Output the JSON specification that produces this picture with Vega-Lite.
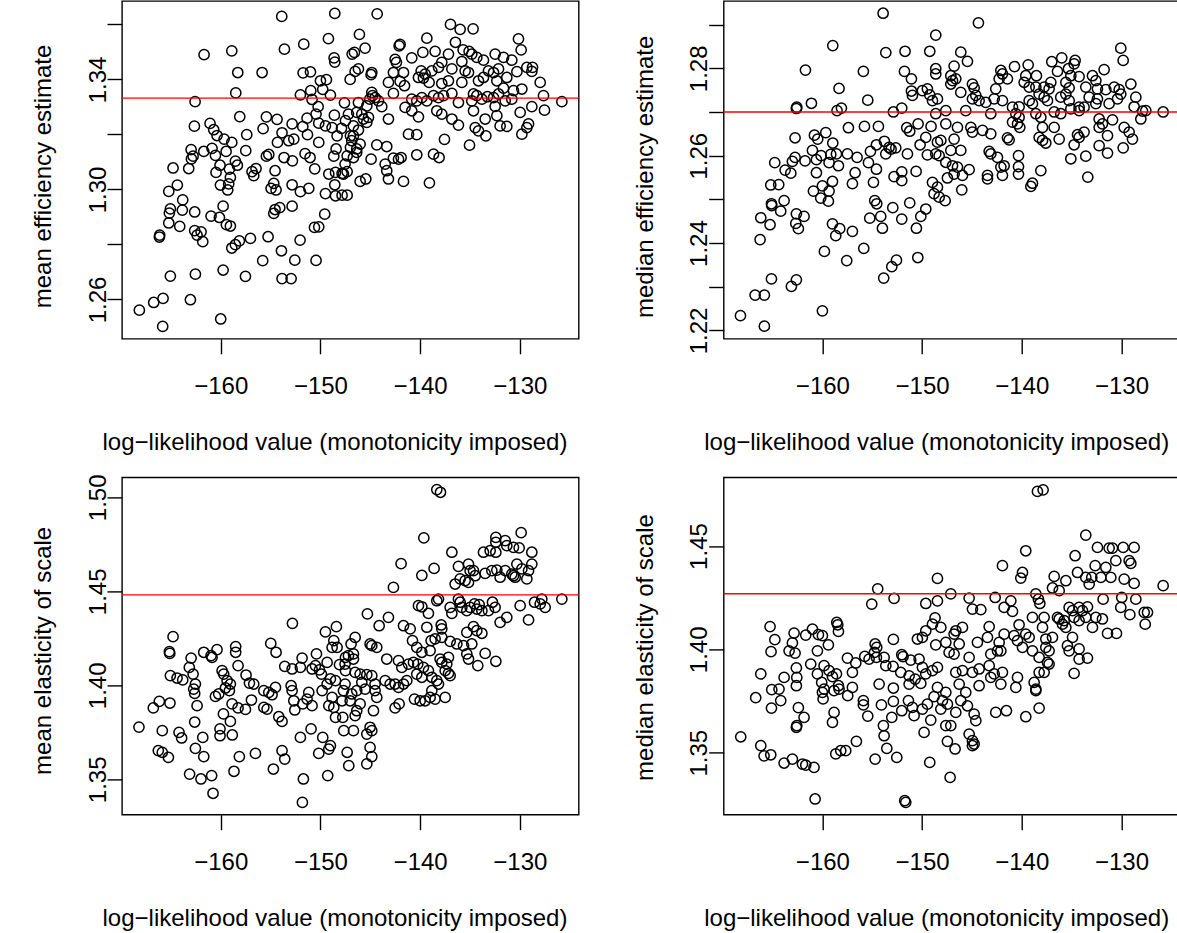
{
"$schema": "https://vega.github.io/schema/vega-lite/v6.json",
"background": "white",
"padding": {"left": 30, "top": 0, "right": 0, "bottom": 0},
"bounds": "flush",
"columns": 2,
"spacing": {"row": 138.4, "column": 144.7},
"datasets": {
"tl": [
{"x":-153.88,"y":1.3629},{"x":-148.56,"y":1.3640},{"x":-149.20,"y":1.3548},{"x":-151.67,"y":1.3528},{"x":-153.61,"y":1.3510},{"x":-158.89,"y":1.3504},{"x":-161.67,"y":1.3490},{"x":-148.63,"y":1.3478},{"x":-148.56,"y":1.3463},{"x":-158.29,"y":1.3425},{"x":-155.85,"y":1.3425},{"x":-151.74,"y":1.3424},{"x":-151.00,"y":1.3427},{"x":-150.00,"y":1.3395},{"x":-149.40,"y":1.3399},{"x":-158.49,"y":1.3351},{"x":-150.97,"y":1.3359},{"x":-152.01,"y":1.3344},{"x":-149.77,"y":1.3364},{"x":-149.00,"y":1.3343},{"x":-162.57,"y":1.3319},{"x":-150.84,"y":1.3327},{"x":-147.59,"y":1.3315},{"x":-150.23,"y":1.3301},{"x":-158.09,"y":1.3265},{"x":-155.42,"y":1.3264},{"x":-154.35,"y":1.3255},{"x":-150.44,"y":1.3274},{"x":-148.60,"y":1.3270},{"x":-162.64,"y":1.3230},{"x":-161.07,"y":1.3240},{"x":-152.84,"y":1.3238},{"x":-151.34,"y":1.3259},{"x":-151.77,"y":1.3228},{"x":-155.75,"y":1.3221},{"x":-160.70,"y":1.3217},{"x":-160.37,"y":1.3196},{"x":-157.39,"y":1.3199},{"x":-159.66,"y":1.3183},{"x":-158.89,"y":1.3171},{"x":-153.85,"y":1.3206},{"x":-151.30,"y":1.3199},{"x":-150.17,"y":1.3241},{"x":-149.50,"y":1.3231},{"x":-148.83,"y":1.3225},{"x":-147.89,"y":1.3222},{"x":-148.33,"y":1.3195},{"x":-154.31,"y":1.3171},{"x":-153.18,"y":1.3177},{"x":-152.67,"y":1.3183},{"x":-150.17,"y":1.3171},{"x":-162.97,"y":1.3145},{"x":-161.70,"y":1.3138},{"x":-160.87,"y":1.3149},{"x":-159.46,"y":1.3138},{"x":-157.49,"y":1.3141},{"x":-155.18,"y":1.3127},{"x":-155.42,"y":1.3121},{"x":-153.65,"y":1.3116},{"x":-151.54,"y":1.3130},{"x":-151.04,"y":1.3116},{"x":-148.43,"y":1.3147},{"x":-162.77,"y":1.3121},{"x":-162.94,"y":1.3111},{"x":-160.53,"y":1.3124},{"x":-160.07,"y":1.3088},{"x":-158.53,"y":1.3103},{"x":-158.33,"y":1.3088},{"x":-160.47,"y":1.3062},{"x":-164.78,"y":1.3078},{"x":-163.21,"y":1.3076},{"x":-159.13,"y":1.3074},{"x":-156.86,"y":1.3065},{"x":-156.46,"y":1.3076},{"x":-156.69,"y":1.3050},{"x":-154.55,"y":1.3068},{"x":-152.81,"y":1.3104},{"x":-150.57,"y":1.3075},{"x":-148.66,"y":1.3121},{"x":-149.16,"y":1.3056},{"x":-148.49,"y":1.3062},{"x":-147.83,"y":1.3058},{"x":-159.03,"y":1.3044},{"x":-159.20,"y":1.3020},{"x":-160.03,"y":1.3016},{"x":-159.30,"y":1.2998},{"x":-154.68,"y":1.3022},{"x":-154.95,"y":1.3004},{"x":-154.45,"y":1.2998},{"x":-152.84,"y":1.3017},{"x":-152.01,"y":1.2992},{"x":-151.17,"y":1.3004},{"x":-149.50,"y":1.2985},{"x":-148.56,"y":1.3017},{"x":-148.49,"y":1.2977},{"x":-147.83,"y":1.2979},{"x":-164.35,"y":1.3016},{"x":-165.21,"y":1.2993},{"x":-163.81,"y":1.2962},{"x":-165.05,"y":1.2929},{"x":-165.15,"y":1.2914},{"x":-163.85,"y":1.2925},{"x":-162.61,"y":1.2918},{"x":-159.76,"y":1.2939},{"x":-160.97,"y":1.2903},{"x":-160.13,"y":1.2898},{"x":-159.43,"y":1.2872},{"x":-159.03,"y":1.2867},{"x":-165.21,"y":1.2878},{"x":-164.11,"y":1.2866},{"x":-154.55,"y":1.2927},{"x":-154.08,"y":1.2934},{"x":-154.68,"y":1.2913},{"x":-152.84,"y":1.2939},{"x":-149.57,"y":1.2910},{"x":-150.60,"y":1.2862},{"x":-150.17,"y":1.2864},{"x":-166.12,"y":1.2834},{"x":-166.15,"y":1.2827},{"x":-162.61,"y":1.2850},{"x":-161.97,"y":1.2846},{"x":-162.37,"y":1.2834},{"x":-161.80,"y":1.2810},{"x":-157.02,"y":1.2822},{"x":-155.25,"y":1.2828},{"x":-158.13,"y":1.2813},{"x":-158.53,"y":1.2799},{"x":-158.89,"y":1.2787},{"x":-152.04,"y":1.2816},{"x":-153.91,"y":1.2777},{"x":-155.79,"y":1.2741},{"x":-152.57,"y":1.2743},{"x":-150.44,"y":1.2742},{"x":-165.05,"y":1.2685},{"x":-162.54,"y":1.2692},{"x":-159.76,"y":1.2707},{"x":-157.52,"y":1.2684},{"x":-153.85,"y":1.2676},{"x":-152.94,"y":1.2676},{"x":-168.16,"y":1.2561},{"x":-166.72,"y":1.2589},{"x":-165.78,"y":1.2604},{"x":-163.04,"y":1.2599},{"x":-165.82,"y":1.2502},{"x":-160.00,"y":1.2529},{"x":-147.49,"y":1.3250},{"x":-147.32,"y":1.3122},{"x":-147.32,"y":1.3065},{"x":-147.32,"y":1.2979},{"x":-146.99,"y":1.3195},{"x":-146.99,"y":1.3153},
{"x":-144.31,"y":1.3638},{"x":-136.96,"y":1.3600},{"x":-135.99,"y":1.3582},{"x":-134.69,"y":1.3584},{"x":-146.09,"y":1.3564},{"x":-130.14,"y":1.3547},{"x":-136.46,"y":1.3535},{"x":-139.33,"y":1.3550},{"x":-142.01,"y":1.3527},{"x":-145.52,"y":1.3514},{"x":-142.11,"y":1.3522},{"x":-129.87,"y":1.3507},{"x":-146.82,"y":1.3492},{"x":-146.59,"y":1.3498},{"x":-135.69,"y":1.3507},{"x":-135.09,"y":1.3502},{"x":-134.82,"y":1.3492},{"x":-142.51,"y":1.3473},{"x":-142.38,"y":1.3462},{"x":-140.84,"y":1.3478},{"x":-139.73,"y":1.3498},{"x":-138.50,"y":1.3502},{"x":-137.16,"y":1.3492},{"x":-134.32,"y":1.3480},{"x":-132.48,"y":1.3492},{"x":-131.64,"y":1.3480},{"x":-130.81,"y":1.3470},{"x":-133.65,"y":1.3470},{"x":-137.83,"y":1.3462},{"x":-135.82,"y":1.3465},{"x":-146.52,"y":1.3429},{"x":-146.19,"y":1.3438},{"x":-147.02,"y":1.3400},{"x":-144.85,"y":1.3425},{"x":-144.92,"y":1.3417},{"x":-142.68,"y":1.3425},{"x":-141.67,"y":1.3425},{"x":-139.90,"y":1.3431},{"x":-139.50,"y":1.3419},{"x":-138.83,"y":1.3431},{"x":-138.16,"y":1.3444},{"x":-136.82,"y":1.3438},{"x":-135.49,"y":1.3431},{"x":-135.15,"y":1.3425},{"x":-133.15,"y":1.3431},{"x":-132.64,"y":1.3425},{"x":-132.14,"y":1.3438},{"x":-131.31,"y":1.3407},{"x":-130.30,"y":1.3428},{"x":-129.30,"y":1.3444},{"x":-128.73,"y":1.3444},{"x":-128.80,"y":1.3429},{"x":-143.18,"y":1.3389},{"x":-142.01,"y":1.3393},{"x":-141.57,"y":1.3377},{"x":-140.17,"y":1.3407},{"x":-139.67,"y":1.3405},{"x":-139.10,"y":1.3389},{"x":-137.83,"y":1.3385},{"x":-137.16,"y":1.3395},{"x":-135.82,"y":1.3389},{"x":-134.15,"y":1.3395},{"x":-133.65,"y":1.3407},{"x":-132.31,"y":1.3395},{"x":-131.64,"y":1.3368},{"x":-130.64,"y":1.3359},{"x":-129.80,"y":1.3365},{"x":-127.96,"y":1.3389},{"x":-144.85,"y":1.3353},{"x":-144.78,"y":1.3341},{"x":-145.05,"y":1.3328},{"x":-144.52,"y":1.3334},{"x":-144.18,"y":1.3322},{"x":-143.85,"y":1.3301},{"x":-142.68,"y":1.3349},{"x":-140.84,"y":1.3328},{"x":-140.34,"y":1.3322},{"x":-139.83,"y":1.3334},{"x":-139.33,"y":1.3322},{"x":-138.66,"y":1.3341},{"x":-138.16,"y":1.3334},{"x":-137.66,"y":1.3341},{"x":-136.82,"y":1.3349},{"x":-136.16,"y":1.3316},{"x":-134.82,"y":1.3322},{"x":-134.65,"y":1.3347},{"x":-134.32,"y":1.3341},{"x":-133.81,"y":1.3328},{"x":-133.25,"y":1.3337},{"x":-132.64,"y":1.3334},{"x":-132.14,"y":1.3347},{"x":-131.47,"y":1.3322},{"x":-130.81,"y":1.3328},{"x":-127.63,"y":1.3341},{"x":-125.79,"y":1.3319},{"x":-146.19,"y":1.3316},{"x":-145.35,"y":1.3304},{"x":-141.51,"y":1.3298},{"x":-140.84,"y":1.3286},{"x":-140.17,"y":1.3264},{"x":-138.33,"y":1.3286},{"x":-137.83,"y":1.3274},{"x":-136.82,"y":1.3256},{"x":-136.16,"y":1.3234},{"x":-134.65,"y":1.3286},{"x":-133.48,"y":1.3256},{"x":-132.48,"y":1.3302},{"x":-132.31,"y":1.3268},{"x":-131.98,"y":1.3231},{"x":-131.31,"y":1.3229},{"x":-129.97,"y":1.3280},{"x":-128.80,"y":1.3301},{"x":-127.53,"y":1.3288},{"x":-129.13,"y":1.3238},{"x":-129.30,"y":1.3225},{"x":-147.19,"y":1.3274},{"x":-146.36,"y":1.3280},{"x":-145.85,"y":1.3274},{"x":-145.69,"y":1.3256},{"x":-146.69,"y":1.3231},{"x":-146.19,"y":1.3216},{"x":-145.35,"y":1.3244},{"x":-145.18,"y":1.3262},{"x":-143.18,"y":1.3256},{"x":-134.48,"y":1.3225},{"x":-134.15,"y":1.3213},{"x":-133.41,"y":1.3195},{"x":-129.80,"y":1.3201},{"x":-141.17,"y":1.3201},{"x":-140.34,"y":1.3199},{"x":-137.56,"y":1.3182},{"x":-135.05,"y":1.3161},{"x":-146.69,"y":1.3195},{"x":-146.86,"y":1.3177},{"x":-146.02,"y":1.3165},{"x":-146.36,"y":1.3147},{"x":-144.35,"y":1.3162},{"x":-143.35,"y":1.3156},{"x":-146.69,"y":1.3116},{"x":-147.53,"y":1.3092},{"x":-146.36,"y":1.3135},{"x":-144.92,"y":1.3110},{"x":-142.68,"y":1.3114},{"x":-142.17,"y":1.3110},{"x":-141.91,"y":1.3116},{"x":-140.34,"y":1.3126},{"x":-138.66,"y":1.3128},{"x":-138.10,"y":1.3116},{"x":-143.51,"y":1.3092},{"x":-143.35,"y":1.3068},{"x":-143.18,"y":1.3038},{"x":-147.69,"y":1.3056},{"x":-146.02,"y":1.3029},{"x":-145.45,"y":1.3038},{"x":-141.67,"y":1.3029},{"x":-139.07,"y":1.3024}
],
"tr": [
{"x":-153.91,"y":1.2926},{"x":-148.63,"y":1.2876},{"x":-158.96,"y":1.2852},{"x":-153.64,"y":1.2836},{"x":-151.71,"y":1.2839},{"x":-149.23,"y":1.2839},{"x":-161.70,"y":1.2796},{"x":-155.89,"y":1.2793},{"x":-151.77,"y":1.2793},{"x":-151.07,"y":1.2776},{"x":-148.63,"y":1.2799},{"x":-148.63,"y":1.2787},{"x":-158.33,"y":1.2754},{"x":-151.07,"y":1.2748},{"x":-150.97,"y":1.2738},{"x":-149.97,"y":1.2749},{"x":-149.47,"y":1.2753},{"x":-149.23,"y":1.2739},{"x":-148.96,"y":1.2726},{"x":-155.45,"y":1.2727},{"x":-162.57,"y":1.2711},{"x":-162.61,"y":1.2708},{"x":-161.10,"y":1.2720},{"x":-158.53,"y":1.2703},{"x":-158.09,"y":1.2709},{"x":-152.88,"y":1.2700},{"x":-152.04,"y":1.2709},{"x":-148.63,"y":1.2696},{"x":-162.74,"y":1.2641},{"x":-160.80,"y":1.2647},{"x":-160.47,"y":1.2638},{"x":-159.66,"y":1.2653},{"x":-158.96,"y":1.2629},{"x":-157.39,"y":1.2664},{"x":-155.78,"y":1.2667},{"x":-154.38,"y":1.2667},{"x":-153.78,"y":1.2633},{"x":-153.11,"y":1.2615},{"x":-152.64,"y":1.2618},{"x":-151.54,"y":1.2664},{"x":-151.24,"y":1.2656},{"x":-150.40,"y":1.2673},{"x":-150.20,"y":1.2625},{"x":-149.10,"y":1.2667},{"x":-149.63,"y":1.2642},{"x":-148.46,"y":1.2631},{"x":-164.78,"y":1.2584},{"x":-163.74,"y":1.2567},{"x":-163.17,"y":1.2560},{"x":-163.01,"y":1.2587},{"x":-162.74,"y":1.2596},{"x":-161.74,"y":1.2588},{"x":-161.00,"y":1.2612},{"x":-160.60,"y":1.2591},{"x":-160.13,"y":1.2600},{"x":-159.33,"y":1.2584},{"x":-159.16,"y":1.2603},{"x":-158.59,"y":1.2604},{"x":-158.39,"y":1.2577},{"x":-157.49,"y":1.2604},{"x":-156.52,"y":1.2596},{"x":-155.38,"y":1.2584},{"x":-155.18,"y":1.2610},{"x":-154.58,"y":1.2625},{"x":-153.64,"y":1.2604},{"x":-153.31,"y":1.2619},{"x":-151.47,"y":1.2604},{"x":-150.60,"y":1.2564},{"x":-149.47,"y":1.2602},{"x":-148.63,"y":1.2604},{"x":-165.18,"y":1.2533},{"x":-164.38,"y":1.2534},{"x":-160.60,"y":1.2561},{"x":-160.00,"y":1.2531},{"x":-158.99,"y":1.2541},{"x":-159.33,"y":1.2519},{"x":-160.17,"y":1.2503},{"x":-159.40,"y":1.2496},{"x":-156.72,"y":1.2561},{"x":-156.99,"y":1.2536},{"x":-154.88,"y":1.2539},{"x":-154.58,"y":1.2569},{"x":-152.81,"y":1.2552},{"x":-152.04,"y":1.2563},{"x":-152.04,"y":1.2543},{"x":-160.90,"y":1.2519},{"x":-154.75,"y":1.2497},{"x":-154.55,"y":1.2490},{"x":-152.94,"y":1.2481},{"x":-151.24,"y":1.2492},{"x":-149.63,"y":1.2478},{"x":-148.96,"y":1.2539},{"x":-148.46,"y":1.2528},{"x":-148.80,"y":1.2513},{"x":-165.11,"y":1.2490},{"x":-165.08,"y":1.2486},{"x":-163.84,"y":1.2497},{"x":-164.18,"y":1.2473},{"x":-166.18,"y":1.2458},{"x":-165.25,"y":1.2442},{"x":-162.61,"y":1.2467},{"x":-162.67,"y":1.2445},{"x":-161.84,"y":1.2461},{"x":-162.41,"y":1.2433},{"x":-158.99,"y":1.2444},{"x":-158.26,"y":1.2433},{"x":-158.66,"y":1.2417},{"x":-156.99,"y":1.2427},{"x":-155.25,"y":1.2457},{"x":-154.15,"y":1.2461},{"x":-153.98,"y":1.2434},{"x":-152.04,"y":1.2455},{"x":-150.57,"y":1.2434},{"x":-150.13,"y":1.2461},{"x":-166.25,"y":1.2408},{"x":-159.80,"y":1.2381},{"x":-155.85,"y":1.2388},{"x":-157.56,"y":1.2360},{"x":-153.04,"y":1.2346},{"x":-152.57,"y":1.2361},{"x":-150.43,"y":1.2367},{"x":-165.11,"y":1.2318},{"x":-162.61,"y":1.2316},{"x":-163.11,"y":1.2301},{"x":-166.75,"y":1.2281},{"x":-165.82,"y":1.2281},{"x":-160.00,"y":1.2245},{"x":-168.22,"y":1.2234},{"x":-165.82,"y":1.2210},{"x":-153.85,"y":1.2320},
{"x":-144.35,"y":1.2904},{"x":-146.12,"y":1.2837},{"x":-145.45,"y":1.2816},{"x":-130.07,"y":1.2846},{"x":-129.83,"y":1.2818},{"x":-135.99,"y":1.2824},{"x":-136.99,"y":1.2815},{"x":-134.65,"y":1.2818},{"x":-134.75,"y":1.2810},{"x":-139.36,"y":1.2808},{"x":-140.73,"y":1.2804},{"x":-146.79,"y":1.2805},{"x":-142.10,"y":1.2795},{"x":-141.94,"y":1.2787},{"x":-142.27,"y":1.2776},{"x":-141.44,"y":1.2776},{"x":-136.42,"y":1.2793},{"x":-135.32,"y":1.2799},{"x":-135.08,"y":1.2783},{"x":-134.25,"y":1.2781},{"x":-132.91,"y":1.2783},{"x":-132.57,"y":1.2772},{"x":-131.74,"y":1.2797},{"x":-129.06,"y":1.2764},{"x":-147.12,"y":1.2783},{"x":-146.95,"y":1.2772},{"x":-146.62,"y":1.2776},{"x":-147.12,"y":1.2764},{"x":-144.95,"y":1.2764},{"x":-144.78,"y":1.2755},{"x":-139.60,"y":1.2783},{"x":-138.53,"y":1.2783},{"x":-139.76,"y":1.2768},{"x":-139.26,"y":1.2757},{"x":-138.59,"y":1.2757},{"x":-137.76,"y":1.2757},{"x":-137.09,"y":1.2768},{"x":-137.26,"y":1.2753},{"x":-138.26,"y":1.2741},{"x":-135.58,"y":1.2768},{"x":-135.25,"y":1.2755},{"x":-133.58,"y":1.2757},{"x":-132.41,"y":1.2753},{"x":-131.57,"y":1.2751},{"x":-130.73,"y":1.2757},{"x":-130.23,"y":1.2751},{"x":-146.12,"y":1.2745},{"x":-148.46,"y":1.2730},{"x":-144.61,"y":1.2738},{"x":-144.95,"y":1.2730},{"x":-144.28,"y":1.2726},{"x":-143.61,"y":1.2722},{"x":-142.61,"y":1.2753},{"x":-142.77,"y":1.2730},{"x":-141.94,"y":1.2726},{"x":-140.93,"y":1.2711},{"x":-140.27,"y":1.2712},{"x":-139.26,"y":1.2726},{"x":-138.93,"y":1.2719},{"x":-137.76,"y":1.2734},{"x":-137.42,"y":1.2726},{"x":-136.09,"y":1.2734},{"x":-135.58,"y":1.2741},{"x":-135.25,"y":1.2726},{"x":-134.25,"y":1.2711},{"x":-133.75,"y":1.2711},{"x":-133.24,"y":1.2734},{"x":-132.57,"y":1.2719},{"x":-132.41,"y":1.2730},{"x":-131.24,"y":1.2719},{"x":-130.40,"y":1.2730},{"x":-130.07,"y":1.2741},{"x":-128.56,"y":1.2734},{"x":-128.73,"y":1.2712},{"x":-127.89,"y":1.2702},{"x":-127.56,"y":1.2703},{"x":-128.06,"y":1.2684},{"x":-125.82,"y":1.2700},{"x":-143.11,"y":1.2696},{"x":-147.62,"y":1.2703},{"x":-145.62,"y":1.2703},{"x":-140.60,"y":1.2696},{"x":-140.27,"y":1.2688},{"x":-138.59,"y":1.2696},{"x":-138.09,"y":1.2688},{"x":-136.75,"y":1.2700},{"x":-136.09,"y":1.2696},{"x":-135.08,"y":1.2707},{"x":-134.25,"y":1.2703},{"x":-140.43,"y":1.2673},{"x":-140.20,"y":1.2665},{"x":-140.93,"y":1.2677},{"x":-137.92,"y":1.2665},{"x":-136.75,"y":1.2665},{"x":-132.24,"y":1.2684},{"x":-131.91,"y":1.2673},{"x":-130.90,"y":1.2682},{"x":-147.62,"y":1.2673},{"x":-146.45,"y":1.2665},{"x":-145.11,"y":1.2665},{"x":-144.95,"y":1.2654},{"x":-143.94,"y":1.2658},{"x":-143.11,"y":1.2650},{"x":-141.44,"y":1.2641},{"x":-141.27,"y":1.2636},{"x":-138.26,"y":1.2642},{"x":-137.92,"y":1.2635},{"x":-137.59,"y":1.2629},{"x":-136.25,"y":1.2638},{"x":-134.41,"y":1.2648},{"x":-134.25,"y":1.2642},{"x":-133.75,"y":1.2654},{"x":-132.24,"y":1.2665},{"x":-131.40,"y":1.2646},{"x":-129.73,"y":1.2665},{"x":-129.23,"y":1.2654},{"x":-128.90,"y":1.2638},{"x":-148.12,"y":1.2635},{"x":-146.79,"y":1.2638},{"x":-146.12,"y":1.2612},{"x":-147.12,"y":1.2612},{"x":-148.29,"y":1.2600},{"x":-143.27,"y":1.2610},{"x":-143.11,"y":1.2604},{"x":-142.44,"y":1.2596},{"x":-140.33,"y":1.2600},{"x":-134.75,"y":1.2625},{"x":-133.58,"y":1.2599},{"x":-135.08,"y":1.2593},{"x":-132.24,"y":1.2623},{"x":-131.40,"y":1.2606},{"x":-129.83,"y":1.2618},{"x":-147.62,"y":1.2585},{"x":-146.95,"y":1.2577},{"x":-146.45,"y":1.2574},{"x":-145.28,"y":1.2568},{"x":-146.79,"y":1.2558},{"x":-145.95,"y":1.2555},{"x":-147.46,"y":1.2549},{"x":-143.44,"y":1.2555},{"x":-143.44,"y":1.2547},{"x":-142.10,"y":1.2574},{"x":-141.77,"y":1.2577},{"x":-141.94,"y":1.2555},{"x":-140.33,"y":1.2575},{"x":-140.33,"y":1.2558},{"x":-138.09,"y":1.2566},{"x":-138.93,"y":1.2537},{"x":-139.09,"y":1.2530},{"x":-133.38,"y":1.2551},{"x":-148.29,"y":1.2505},{"x":-147.69,"y":1.2497},{"x":-146.02,"y":1.2522}
],
"bl": [
{"x":-152.81,"y":1.4330},{"x":-164.78,"y":1.4259},{"x":-165.15,"y":1.4179},{"x":-165.11,"y":1.4170},{"x":-162.97,"y":1.4145},{"x":-161.70,"y":1.4176},{"x":-160.97,"y":1.4158},{"x":-160.87,"y":1.4149},{"x":-160.37,"y":1.4190},{"x":-158.50,"y":1.4206},{"x":-158.50,"y":1.4176},{"x":-154.98,"y":1.4223},{"x":-154.45,"y":1.4176},{"x":-151.84,"y":1.4145},{"x":-150.40,"y":1.4167},{"x":-149.50,"y":1.4284},{"x":-148.40,"y":1.4312},{"x":-148.66,"y":1.4238},{"x":-148.83,"y":1.4202},{"x":-148.33,"y":1.4202},{"x":-147.49,"y":1.4149},{"x":-148.09,"y":1.4110},{"x":-146.93,"y":1.4220},{"x":-163.15,"y":1.4096},{"x":-162.77,"y":1.4060},{"x":-159.86,"y":1.4078},{"x":-159.70,"y":1.4060},{"x":-158.26,"y":1.4105},{"x":-157.46,"y":1.4055},{"x":-157.12,"y":1.4012},{"x":-156.69,"y":1.4007},{"x":-153.58,"y":1.4101},{"x":-152.84,"y":1.4087},{"x":-152.01,"y":1.4096},{"x":-150.84,"y":1.4087},{"x":-150.50,"y":1.4105},{"x":-150.10,"y":1.4082},{"x":-149.90,"y":1.4060},{"x":-149.33,"y":1.4122},{"x":-149.00,"y":1.4034},{"x":-148.49,"y":1.4025},{"x":-147.49,"y":1.4078},{"x":-165.05,"y":1.4052},{"x":-164.38,"y":1.4039},{"x":-163.81,"y":1.4029},{"x":-162.54,"y":1.4007},{"x":-162.71,"y":1.3980},{"x":-162.61,"y":1.3957},{"x":-162.37,"y":1.3892},{"x":-160.53,"y":1.3941},{"x":-160.20,"y":1.3954},{"x":-159.36,"y":1.4025},{"x":-159.03,"y":1.4007},{"x":-159.53,"y":1.3986},{"x":-159.13,"y":1.3972},{"x":-158.86,"y":1.3901},{"x":-158.26,"y":1.3880},{"x":-157.52,"y":1.3872},{"x":-156.92,"y":1.3922},{"x":-155.68,"y":1.3972},{"x":-155.18,"y":1.3963},{"x":-154.51,"y":1.3989},{"x":-154.85,"y":1.3950},{"x":-155.68,"y":1.3883},{"x":-155.35,"y":1.3874},{"x":-152.94,"y":1.3998},{"x":-152.84,"y":1.3972},{"x":-152.67,"y":1.3918},{"x":-152.57,"y":1.3869},{"x":-151.77,"y":1.3901},{"x":-151.17,"y":1.3963},{"x":-151.34,"y":1.3927},{"x":-150.84,"y":1.3892},{"x":-149.83,"y":1.3972},{"x":-149.33,"y":1.4007},{"x":-148.83,"y":1.3936},{"x":-149.16,"y":1.3892},{"x":-148.66,"y":1.3883},{"x":-147.83,"y":1.3918},{"x":-148.49,"y":1.3830},{"x":-147.76,"y":1.3830},{"x":-154.18,"y":1.3833},{"x":-153.85,"y":1.3808},{"x":-159.73,"y":1.3848},{"x":-159.03,"y":1.3808},{"x":-166.76,"y":1.3880},{"x":-166.16,"y":1.3915},{"x":-165.09,"y":1.3906},{"x":-168.20,"y":1.3778},{"x":-165.86,"y":1.3759},{"x":-164.18,"y":1.3750},{"x":-163.92,"y":1.3720},{"x":-162.61,"y":1.3805},{"x":-161.80,"y":1.3723},{"x":-160.07,"y":1.3768},{"x":-160.07,"y":1.3732},{"x":-158.84,"y":1.3736},{"x":-152.01,"y":1.3723},{"x":-150.94,"y":1.3768},{"x":-149.77,"y":1.3723},{"x":-166.26,"y":1.3653},{"x":-165.86,"y":1.3644},{"x":-165.25,"y":1.3617},{"x":-162.54,"y":1.3665},{"x":-161.70,"y":1.3621},{"x":-158.13,"y":1.3621},{"x":-156.52,"y":1.3638},{"x":-153.85,"y":1.3653},{"x":-153.58,"y":1.3608},{"x":-154.72,"y":1.3555},{"x":-158.67,"y":1.3543},{"x":-163.12,"y":1.3528},{"x":-161.98,"y":1.3502},{"x":-160.91,"y":1.3520},{"x":-151.71,"y":1.3502},{"x":-149.27,"y":1.3520},{"x":-150.17,"y":1.3638},{"x":-149.00,"y":1.3679},{"x":-149.16,"y":1.3661},{"x":-147.66,"y":1.3759},{"x":-147.32,"y":1.3644},{"x":-147.16,"y":1.3573},{"x":-160.77,"y":1.3426},{"x":-151.81,"y":1.3378},
{"x":-138.33,"y":1.5041},{"x":-137.96,"y":1.5027},{"x":-139.63,"y":1.4784},{"x":-129.87,"y":1.4812},{"x":-132.41,"y":1.4787},{"x":-132.41,"y":1.4761},{"x":-131.47,"y":1.4770},{"x":-131.31,"y":1.4743},{"x":-130.64,"y":1.4734},{"x":-130.07,"y":1.4731},{"x":-133.65,"y":1.4708},{"x":-132.98,"y":1.4716},{"x":-132.41,"y":1.4708},{"x":-128.80,"y":1.4708},{"x":-136.82,"y":1.4708},{"x":-141.91,"y":1.4647},{"x":-139.83,"y":1.4585},{"x":-138.60,"y":1.4622},{"x":-136.16,"y":1.4633},{"x":-135.15,"y":1.4645},{"x":-134.99,"y":1.4610},{"x":-134.65,"y":1.4610},{"x":-136.49,"y":1.4539},{"x":-135.99,"y":1.4566},{"x":-135.49,"y":1.4557},{"x":-135.15,"y":1.4548},{"x":-134.48,"y":1.4583},{"x":-133.48,"y":1.4596},{"x":-132.81,"y":1.4610},{"x":-132.31,"y":1.4613},{"x":-131.98,"y":1.4575},{"x":-131.47,"y":1.4610},{"x":-130.81,"y":1.4592},{"x":-130.47,"y":1.4575},{"x":-130.30,"y":1.4645},{"x":-129.80,"y":1.4619},{"x":-129.13,"y":1.4610},{"x":-128.80,"y":1.4645},{"x":-129.30,"y":1.4566},{"x":-130.64,"y":1.4583},{"x":-142.68,"y":1.4521},{"x":-140.17,"y":1.4424},{"x":-139.83,"y":1.4418},{"x":-139.17,"y":1.4383},{"x":-138.33,"y":1.4450},{"x":-138.16,"y":1.4459},{"x":-136.99,"y":1.4415},{"x":-136.82,"y":1.4383},{"x":-136.16,"y":1.4459},{"x":-135.99,"y":1.4442},{"x":-135.82,"y":1.4415},{"x":-135.32,"y":1.4397},{"x":-134.99,"y":1.4415},{"x":-134.55,"y":1.4433},{"x":-134.32,"y":1.4406},{"x":-134.08,"y":1.4429},{"x":-133.81,"y":1.4397},{"x":-133.15,"y":1.4397},{"x":-132.75,"y":1.4442},{"x":-132.48,"y":1.4415},{"x":-131.98,"y":1.4335},{"x":-131.31,"y":1.4362},{"x":-129.97,"y":1.4424},{"x":-129.13,"y":1.4348},{"x":-128.53,"y":1.4442},{"x":-127.80,"y":1.4459},{"x":-127.96,"y":1.4433},{"x":-127.46,"y":1.4415},{"x":-125.79,"y":1.4459},{"x":-145.29,"y":1.4380},{"x":-143.18,"y":1.4362},{"x":-144.11,"y":1.4317},{"x":-141.67,"y":1.4317},{"x":-141.00,"y":1.4300},{"x":-139.33,"y":1.4309},{"x":-137.89,"y":1.4321},{"x":-137.83,"y":1.4300},{"x":-140.77,"y":1.4238},{"x":-140.34,"y":1.4202},{"x":-139.83,"y":1.4176},{"x":-138.90,"y":1.4238},{"x":-139.00,"y":1.4185},{"x":-138.50,"y":1.4247},{"x":-137.83,"y":1.4255},{"x":-136.99,"y":1.4234},{"x":-136.32,"y":1.4220},{"x":-135.65,"y":1.4211},{"x":-135.32,"y":1.4282},{"x":-134.65,"y":1.4312},{"x":-134.32,"y":1.4291},{"x":-134.82,"y":1.4220},{"x":-133.81,"y":1.4277},{"x":-135.32,"y":1.4167},{"x":-135.15,"y":1.4140},{"x":-134.22,"y":1.4105},{"x":-133.48,"y":1.4170},{"x":-132.41,"y":1.4128},{"x":-146.52,"y":1.4255},{"x":-146.69,"y":1.4167},{"x":-144.85,"y":1.4211},{"x":-144.35,"y":1.4202},{"x":-145.02,"y":1.4220},{"x":-143.35,"y":1.4140},{"x":-142.17,"y":1.4131},{"x":-141.84,"y":1.4096},{"x":-141.17,"y":1.4113},{"x":-140.67,"y":1.4122},{"x":-140.24,"y":1.4113},{"x":-139.67,"y":1.4096},{"x":-139.17,"y":1.4078},{"x":-138.00,"y":1.4140},{"x":-137.83,"y":1.4122},{"x":-137.33,"y":1.4113},{"x":-137.49,"y":1.4078},{"x":-137.16,"y":1.4064},{"x":-136.99,"y":1.4052},{"x":-137.16,"y":1.4149},{"x":-146.52,"y":1.4069},{"x":-146.02,"y":1.4060},{"x":-145.85,"y":1.4016},{"x":-145.35,"y":1.4057},{"x":-144.85,"y":1.4052},{"x":-144.52,"y":1.4007},{"x":-143.51,"y":1.4025},{"x":-143.01,"y":1.4007},{"x":-142.51,"y":1.4007},{"x":-142.17,"y":1.3989},{"x":-141.67,"y":1.4007},{"x":-141.34,"y":1.4025},{"x":-140.34,"y":1.4060},{"x":-139.83,"y":1.4043},{"x":-138.83,"y":1.4043},{"x":-138.33,"y":1.4025},{"x":-138.16,"y":1.4007},{"x":-138.83,"y":1.3972},{"x":-139.00,"y":1.3936},{"x":-139.50,"y":1.3918},{"x":-138.50,"y":1.3927},{"x":-137.49,"y":1.3936},{"x":-140.57,"y":1.3927},{"x":-140.00,"y":1.3918},{"x":-142.11,"y":1.3901},{"x":-142.51,"y":1.3880},{"x":-144.35,"y":1.3936},{"x":-144.52,"y":1.3972},{"x":-145.52,"y":1.3980},{"x":-146.36,"y":1.3972},{"x":-146.86,"y":1.3954},{"x":-147.02,"y":1.3918},{"x":-146.02,"y":1.3901},{"x":-146.36,"y":1.3865},{"x":-146.52,"y":1.3839},{"x":-144.68,"y":1.3865},{"x":-145.02,"y":1.3777},{"x":-144.85,"y":1.3759},{"x":-145.35,"y":1.3741},{"x":-146.69,"y":1.3759},{"x":-145.02,"y":1.3670},{"x":-144.85,"y":1.3621},{"x":-145.35,"y":1.3582},{"x":-147.53,"y":1.4007},{"x":-147.69,"y":1.3972},{"x":-147.19,"y":1.4158},{"x":-146.69,"y":1.4140},{"x":-147.53,"y":1.4113}
],
"br": [
{"x":-148.46,"y":1.4343},{"x":-154.45,"y":1.4293},{"x":-152.81,"y":1.4247},{"x":-155.05,"y":1.4219},{"x":-149.63,"y":1.4222},{"x":-148.46,"y":1.4235},{"x":-148.70,"y":1.4152},{"x":-148.96,"y":1.4122},{"x":-158.56,"y":1.4131},{"x":-158.46,"y":1.4119},{"x":-158.39,"y":1.4087},{"x":-165.25,"y":1.4110},{"x":-164.77,"y":1.4047},{"x":-165.15,"y":1.3989},{"x":-162.84,"y":1.4079},{"x":-163.01,"y":1.4031},{"x":-163.34,"y":1.3993},{"x":-162.74,"y":1.3982},{"x":-161.67,"y":1.4069},{"x":-161.00,"y":1.4098},{"x":-160.40,"y":1.4071},{"x":-160.00,"y":1.4066},{"x":-160.50,"y":1.3993},{"x":-159.40,"y":1.4022},{"x":-154.71,"y":1.4026},{"x":-154.55,"y":1.4010},{"x":-152.88,"y":1.4048},{"x":-150.47,"y":1.4050},{"x":-149.97,"y":1.4058},{"x":-149.63,"y":1.4090},{"x":-148.63,"y":1.4022},{"x":-166.18,"y":1.3881},{"x":-163.84,"y":1.3864},{"x":-164.35,"y":1.3808},{"x":-165.08,"y":1.3805},{"x":-164.18,"y":1.3752},{"x":-165.11,"y":1.3716},{"x":-166.69,"y":1.3766},{"x":-162.61,"y":1.3910},{"x":-162.57,"y":1.3864},{"x":-162.61,"y":1.3824},{"x":-161.17,"y":1.3929},{"x":-160.50,"y":1.3881},{"x":-160.07,"y":1.3840},{"x":-159.83,"y":1.3921},{"x":-159.33,"y":1.3897},{"x":-158.99,"y":1.3868},{"x":-158.59,"y":1.3881},{"x":-158.39,"y":1.3824},{"x":-159.83,"y":1.3808},{"x":-158.83,"y":1.3800},{"x":-158.33,"y":1.3808},{"x":-157.49,"y":1.3958},{"x":-156.65,"y":1.3934},{"x":-156.99,"y":1.3889},{"x":-156.99,"y":1.3816},{"x":-157.46,"y":1.3776},{"x":-155.75,"y":1.3966},{"x":-155.32,"y":1.3953},{"x":-154.78,"y":1.3985},{"x":-154.58,"y":1.3961},{"x":-153.81,"y":1.3961},{"x":-153.64,"y":1.3921},{"x":-152.91,"y":1.3918},{"x":-152.04,"y":1.3974},{"x":-151.91,"y":1.3965},{"x":-151.14,"y":1.3948},{"x":-150.30,"y":1.3953},{"x":-149.97,"y":1.3913},{"x":-151.30,"y":1.3872},{"x":-152.14,"y":1.3889},{"x":-154.31,"y":1.3832},{"x":-152.88,"y":1.3813},{"x":-151.30,"y":1.3832},{"x":-150.70,"y":1.3856},{"x":-150.13,"y":1.3835},{"x":-149.63,"y":1.3881},{"x":-148.96,"y":1.3897},{"x":-148.46,"y":1.3913},{"x":-148.46,"y":1.3816},{"x":-148.80,"y":1.3771},{"x":-149.47,"y":1.3735},{"x":-155.89,"y":1.3752},{"x":-155.89,"y":1.3731},{"x":-155.45,"y":1.3677},{"x":-154.08,"y":1.3731},{"x":-152.88,"y":1.3748},{"x":-153.04,"y":1.3671},{"x":-152.04,"y":1.3703},{"x":-151.37,"y":1.3752},{"x":-150.97,"y":1.3719},{"x":-150.80,"y":1.3679},{"x":-149.97,"y":1.3711},{"x":-149.13,"y":1.3658},{"x":-149.80,"y":1.3598},{"x":-162.41,"y":1.3718},{"x":-161.84,"y":1.3671},{"x":-162.57,"y":1.3631},{"x":-162.61,"y":1.3623},{"x":-158.83,"y":1.3695},{"x":-158.99,"y":1.3647},{"x":-160.00,"y":1.3792},{"x":-159.93,"y":1.3760},{"x":-153.88,"y":1.3631},{"x":-153.81,"y":1.3582},{"x":-153.54,"y":1.3521},{"x":-168.19,"y":1.3577},{"x":-166.18,"y":1.3534},{"x":-165.85,"y":1.3485},{"x":-165.18,"y":1.3490},{"x":-163.84,"y":1.3450},{"x":-163.01,"y":1.3469},{"x":-162.00,"y":1.3445},{"x":-161.67,"y":1.3440},{"x":-160.84,"y":1.3429},{"x":-158.66,"y":1.3494},{"x":-158.16,"y":1.3510},{"x":-157.66,"y":1.3510},{"x":-156.59,"y":1.3555},{"x":-154.71,"y":1.3469},{"x":-152.54,"y":1.3477},{"x":-149.23,"y":1.3453},{"x":-160.73,"y":1.3276},{"x":-151.74,"y":1.3268},{"x":-151.64,"y":1.3260},
{"x":-138.43,"y":1.4764},{"x":-137.86,"y":1.4772},{"x":-133.58,"y":1.4553},{"x":-132.41,"y":1.4493},{"x":-131.24,"y":1.4490},{"x":-130.90,"y":1.4490},{"x":-129.83,"y":1.4493},{"x":-128.73,"y":1.4493},{"x":-139.60,"y":1.4477},{"x":-141.94,"y":1.4405},{"x":-139.93,"y":1.4372},{"x":-140.10,"y":1.4345},{"x":-134.65,"y":1.4453},{"x":-129.23,"y":1.4429},{"x":-129.06,"y":1.4416},{"x":-130.57,"y":1.4429},{"x":-131.57,"y":1.4397},{"x":-132.64,"y":1.4405},{"x":-132.98,"y":1.4348},{"x":-136.75,"y":1.4353},{"x":-135.58,"y":1.4332},{"x":-134.41,"y":1.4372},{"x":-133.58,"y":1.4348},{"x":-133.24,"y":1.4316},{"x":-132.07,"y":1.4348},{"x":-131.07,"y":1.4348},{"x":-129.73,"y":1.4340},{"x":-128.73,"y":1.4319},{"x":-138.59,"y":1.4268},{"x":-138.33,"y":1.4243},{"x":-138.19,"y":1.4222},{"x":-136.92,"y":1.4297},{"x":-136.25,"y":1.4284},{"x":-147.12,"y":1.4268},{"x":-145.28,"y":1.4248},{"x":-142.67,"y":1.4251},{"x":-141.10,"y":1.4235},{"x":-125.82,"y":1.4308},{"x":-129.97,"y":1.4251},{"x":-128.56,"y":1.4243},{"x":-131.84,"y":1.4243},{"x":-144.95,"y":1.4195},{"x":-144.11,"y":1.4192},{"x":-141.77,"y":1.4203},{"x":-140.93,"y":1.4184},{"x":-138.93,"y":1.4155},{"x":-137.76,"y":1.4155},{"x":-136.25,"y":1.4147},{"x":-135.75,"y":1.4139},{"x":-135.25,"y":1.4203},{"x":-134.91,"y":1.4187},{"x":-134.25,"y":1.4203},{"x":-133.91,"y":1.4187},{"x":-133.41,"y":1.4206},{"x":-132.57,"y":1.4155},{"x":-131.91,"y":1.4147},{"x":-130.07,"y":1.4203},{"x":-129.16,"y":1.4168},{"x":-127.72,"y":1.4179},{"x":-127.39,"y":1.4179},{"x":-127.62,"y":1.4122},{"x":-131.40,"y":1.4077},{"x":-130.50,"y":1.4077},{"x":-136.42,"y":1.4155},{"x":-135.92,"y":1.4122},{"x":-135.58,"y":1.4106},{"x":-134.75,"y":1.4155},{"x":-134.25,"y":1.4139},{"x":-133.58,"y":1.4155},{"x":-132.91,"y":1.4106},{"x":-148.12,"y":1.4106},{"x":-145.95,"y":1.4106},{"x":-146.62,"y":1.4090},{"x":-146.79,"y":1.4074},{"x":-143.27,"y":1.4110},{"x":-140.27,"y":1.4119},{"x":-137.92,"y":1.4106},{"x":-143.44,"y":1.4058},{"x":-144.45,"y":1.4034},{"x":-141.77,"y":1.4074},{"x":-140.77,"y":1.4066},{"x":-140.43,"y":1.4042},{"x":-139.60,"y":1.4074},{"x":-139.26,"y":1.4058},{"x":-137.59,"y":1.4050},{"x":-136.92,"y":1.4058},{"x":-134.91,"y":1.4058},{"x":-147.62,"y":1.4034},{"x":-146.28,"y":1.4026},{"x":-147.29,"y":1.3985},{"x":-146.79,"y":1.3977},{"x":-145.28,"y":1.3961},{"x":-143.11,"y":1.3977},{"x":-142.27,"y":1.4034},{"x":-142.44,"y":1.3993},{"x":-142.10,"y":1.3993},{"x":-139.93,"y":1.4010},{"x":-138.93,"y":1.3993},{"x":-137.59,"y":1.4010},{"x":-137.26,"y":1.3993},{"x":-138.26,"y":1.3961},{"x":-137.42,"y":1.3937},{"x":-137.26,"y":1.3929},{"x":-135.42,"y":1.4018},{"x":-135.25,"y":1.3993},{"x":-134.25,"y":1.4002},{"x":-134.25,"y":1.3953},{"x":-133.41,"y":1.3958},{"x":-146.62,"y":1.3889},{"x":-145.95,"y":1.3897},{"x":-144.95,"y":1.3889},{"x":-144.28,"y":1.3905},{"x":-143.27,"y":1.3921},{"x":-142.77,"y":1.3881},{"x":-141.94,"y":1.3889},{"x":-143.11,"y":1.3864},{"x":-142.10,"y":1.3832},{"x":-144.28,"y":1.3824},{"x":-140.43,"y":1.3864},{"x":-140.60,"y":1.3816},{"x":-138.76,"y":1.3840},{"x":-138.59,"y":1.3808},{"x":-138.59,"y":1.3800},{"x":-138.26,"y":1.3889},{"x":-137.76,"y":1.3889},{"x":-134.75,"y":1.3884},{"x":-147.62,"y":1.3792},{"x":-146.28,"y":1.3832},{"x":-145.62,"y":1.3792},{"x":-146.12,"y":1.3752},{"x":-147.96,"y":1.3752},{"x":-147.46,"y":1.3735},{"x":-148.12,"y":1.3711},{"x":-146.62,"y":1.3695},{"x":-145.45,"y":1.3727},{"x":-144.78,"y":1.3687},{"x":-144.61,"y":1.3655},{"x":-142.61,"y":1.3695},{"x":-141.54,"y":1.3703},{"x":-139.60,"y":1.3674},{"x":-138.26,"y":1.3716},{"x":-147.62,"y":1.3631},{"x":-147.12,"y":1.3631},{"x":-145.28,"y":1.3590},{"x":-144.95,"y":1.3558},{"x":-144.95,"y":1.3534},{"x":-144.78,"y":1.3542},{"x":-147.46,"y":1.3555},{"x":-146.69,"y":1.3518},{"x":-147.19,"y":1.3381}
],
"reftl": [{"ref": 1.3332}],
"reftr": [{"ref": 1.2700}],
"refbl": [{"ref": 1.4481}],
"refbr": [{"ref": 1.4269}]
},
"concat": [
{
"width": 456.7, "height": 337.8,
"layer": [
{"data": {"name": "tl"},
 "mark": {"type": "point", "shape": "circle", "filled": false, "color": "black", "strokeWidth": 1.5, "size": 105, "opacity": 1},
 "encoding": {
  "x": {"field": "x", "type": "quantitative", "scale": {"domain": [-169.9, -124.1], "nice": false, "zero": false},
        "axis": {"values": [-160, -150, -140, -130], "format": "d", "title": "log−likelihood value (monotonicity imposed)"}},
  "y": {"field": "y", "type": "quantitative", "scale": {"domain": [1.2457, 1.3685], "nice": false, "zero": false},
        "axis": {"values": [1.26, 1.28, 1.30, 1.32, 1.34, 1.36], "labelExpr": "round(datum.value*100) % 4 == 2 ? format(datum.value, '.2f') : ''", "title": "mean efficiency estimate", "titleY": 306.8}}
 }},
{"data": {"name": "reftl"}, "mark": {"type": "rule", "color": "#ff0000", "strokeWidth": 1.4}, "encoding": {"y": {"field": "ref", "type": "quantitative"}}}
]
},
{
"width": 456, "height": 337.8,
"layer": [
{"data": {"name": "tr"},
 "mark": {"type": "point", "shape": "circle", "filled": false, "color": "black", "strokeWidth": 1.5, "size": 105, "opacity": 1},
 "encoding": {
  "x": {"field": "x", "type": "quantitative", "scale": {"domain": [-169.9, -124.16], "nice": false, "zero": false},
        "axis": {"values": [-160, -150, -140, -130], "format": "d", "title": "log−likelihood value (monotonicity imposed)"}},
  "y": {"field": "y", "type": "quantitative", "scale": {"domain": [1.2181, 1.2954], "nice": false, "zero": false},
        "axis": {"values": [1.22, 1.23, 1.24, 1.25, 1.26, 1.27, 1.28, 1.29], "labelExpr": "round(datum.value*100) % 2 == 0 ? format(datum.value, '.2f') : ''", "title": "median efficiency estimate", "titleY": 316.5}}
 }},
{"data": {"name": "reftr"}, "mark": {"type": "rule", "color": "#ff0000", "strokeWidth": 1.4}, "encoding": {"y": {"field": "ref", "type": "quantitative"}}}
]
},
{
"width": 456.7, "height": 337.3,
"layer": [
{"data": {"name": "bl"},
 "mark": {"type": "point", "shape": "circle", "filled": false, "color": "black", "strokeWidth": 1.5, "size": 105, "opacity": 1},
 "encoding": {
  "x": {"field": "x", "type": "quantitative", "scale": {"domain": [-169.9, -124.1], "nice": false, "zero": false},
        "axis": {"values": [-160, -150, -140, -130], "format": "d", "title": "log−likelihood value (monotonicity imposed)"}},
  "y": {"field": "y", "type": "quantitative", "scale": {"domain": [1.3312, 1.5106], "nice": false, "zero": false},
        "axis": {"values": [1.35, 1.40, 1.45, 1.50], "format": ".2f", "title": "mean elasticity of scale", "titleY": 297}}
 }},
{"data": {"name": "refbl"}, "mark": {"type": "rule", "color": "#ff0000", "strokeWidth": 1.4}, "encoding": {"y": {"field": "ref", "type": "quantitative"}}}
]
},
{
"width": 456, "height": 337.3,
"layer": [
{"data": {"name": "br"},
 "mark": {"type": "point", "shape": "circle", "filled": false, "color": "black", "strokeWidth": 1.5, "size": 105, "opacity": 1},
 "encoding": {
  "x": {"field": "x", "type": "quantitative", "scale": {"domain": [-169.9, -124.16], "nice": false, "zero": false},
        "axis": {"values": [-160, -150, -140, -130], "format": "d", "title": "log−likelihood value (monotonicity imposed)"}},
  "y": {"field": "y", "type": "quantitative", "scale": {"domain": [1.3200, 1.4832], "nice": false, "zero": false},
        "axis": {"values": [1.35, 1.40, 1.45], "format": ".2f", "title": "median elasticity of scale", "titleY": 303}}
 }},
{"data": {"name": "refbr"}, "mark": {"type": "rule", "color": "#ff0000", "strokeWidth": 1.4}, "encoding": {"y": {"field": "ref", "type": "quantitative"}}}
]
}
],
"config": {
 "view": {"stroke": "black", "strokeWidth": 1.4, "fill": null},
 "font": "Liberation Sans",
 "axis": {"labelFont": "Liberation Sans", "titleFont": "Liberation Sans", "labelFontSize": 24, "titleFontSize": 24, "labelColor": "black", "titleColor": "black", "titleFontWeight": "normal", "tickColor": "black", "tickWidth": 1.4, "tickSize": 15, "domain": false, "grid": false, "labelOverlap": false, "labelFlush": false, "labelBound": false},
 "axisX": {"labelBaseline": "alphabetic", "labelAlign": "center", "labelPadding": 39.7, "titleAlign": "left", "titleAnchor": "start", "titleBaseline": "alphabetic", "titleX": -20, "titleY": 111},
 "axisY": {"labelAngle": -90, "labelAlign": "center", "labelBaseline": "alphabetic", "labelPadding": 1.8, "titleAngle": -90, "titleAlign": "left", "titleAnchor": "start", "titleBaseline": "alphabetic", "titleX": -71.3}
}
}
